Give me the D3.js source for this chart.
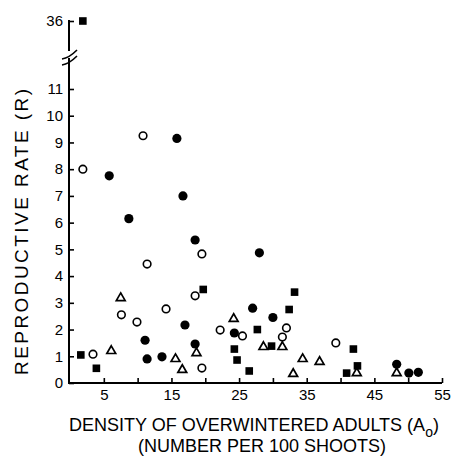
<!DOCTYPE html>
<html>
<head>
<meta charset="utf-8">
<script src="https://cdn.jsdelivr.net/npm/d3@7"></script>
<style>
  body { margin: 0; background: #fff; }
  svg { display: block; }
  text { font-family: "Liberation Sans", Arial, sans-serif; fill: #000; }
</style>
</head>
<body>
<div class="chart"></div>
<script>
// [density A0, reproductive rate R]
const filledCircles = [[5.8, 7.75], [8.7, 6.15], [15.8, 9.15], [16.7, 7.0], [18.5, 5.35], [28.0, 4.87],
  [27.0, 2.8], [30.0, 2.45], [17.0, 2.17], [24.3, 1.87], [18.5, 1.46], [11.1, 1.6], [11.4, 0.9],
  [13.6, 0.98], [48.3, 0.7], [50.1, 0.37], [51.5, 0.4]];
const openCircles = [[1.9, 8.0], [10.8, 9.25], [11.4, 4.45], [7.6, 2.55], [9.9, 2.28], [14.2, 2.77],
  [3.4, 1.08], [19.5, 4.83], [18.5, 3.26], [22.2, 1.98], [25.5, 1.76], [32.0, 2.06], [31.4, 1.72],
  [19.5, 0.56], [39.3, 1.5]];
const filledSquares = [[1.9, 36], [1.6, 1.05], [3.9, 0.55], [19.7, 3.5], [33.2, 3.4], [32.4, 2.75],
  [27.7, 2.0], [29.8, 1.38], [24.3, 1.27], [24.7, 0.86], [26.5, 0.45], [41.9, 1.27], [42.5, 0.64],
  [40.9, 0.37]];
const openTriangles = [[7.5, 3.18], [6.1, 1.2], [15.6, 0.9], [16.6, 0.49], [24.2, 2.4], [18.7, 1.12],
  [28.6, 1.35], [31.4, 1.35], [34.4, 0.9], [33.0, 0.34], [36.9, 0.79], [42.4, 0.37], [48.3, 0.37]];

const xTicks = [5, 10, 15, 20, 25, 30, 35, 40, 45, 50, 55];
const xLabels = [5, 15, 25, 35, 45, 55];
const yTicks = [0, 1, 2, 3, 4, 5, 6, 7, 8, 9, 10, 11];
const yTopTicks = [36];

const width = 468, height = 461;

const svg = d3.select(".chart").append("svg")
  .attr("width", width)
  .attr("height", height);

const xScale = d3.scaleLinear().domain([0, 55]).range([70, 442]);
const yScale = d3.scaleLinear().domain([0, 11]).range([383, 89]);
// the part above the axis break
const yTop = d3.scaleLinear().domain([36, 35]).range([21, 47.7]);
const yPos = v => v > 20 ? yTop(v) : yScale(v);

const axisX = 69;

// x axis
const xAxis = d3.axisBottom(xScale)
  .tickValues(xTicks)
  .tickSizeInner(-5)
  .tickSizeOuter(0)
  .tickPadding(6)
  .tickFormat(d => xLabels.includes(d) ? d : "");

const gx = svg.append("g")
  .attr("transform", "translate(0," + yScale(0) + ")")
  .call(xAxis);
gx.select(".domain").remove();
gx.selectAll("line").attr("stroke", "#000").attr("stroke-width", 1.6);
gx.selectAll("text").style("font-size", "15px");
svg.append("line")
  .attr("x1", axisX).attr("x2", xScale(55))
  .attr("y1", yScale(0)).attr("y2", yScale(0))
  .attr("stroke", "#000").attr("stroke-width", 2);

// y axis, lower part
const yAxis = d3.axisLeft(yScale)
  .tickValues(yTicks)
  .tickSizeInner(-5)
  .tickSizeOuter(0)
  .tickPadding(6)
  .tickFormat(d3.format("d"));

const gy = svg.append("g")
  .attr("transform", "translate(" + axisX + ",0)")
  .call(yAxis);
gy.select(".domain").remove();
gy.selectAll("line").attr("stroke", "#000").attr("stroke-width", 1.6);
gy.selectAll("text").style("font-size", "15px");

const gyTop = svg.append("g")
  .attr("transform", "translate(" + axisX + ",0)")
  .call(d3.axisLeft(yTop).tickValues(yTopTicks).tickSizeInner(-5).tickSizeOuter(0)
    .tickPadding(6).tickFormat(d3.format("d")));
gyTop.select(".domain").remove();
gyTop.selectAll("line").attr("stroke", "#000").attr("stroke-width", 1.6);
gyTop.selectAll("text").style("font-size", "15px");

// axis line with a break
svg.append("line")
  .attr("x1", axisX).attr("x2", axisX)
  .attr("y1", yScale(0) + 1).attr("y2", 58)
  .attr("stroke", "#000").attr("stroke-width", 2);
svg.append("line")
  .attr("x1", axisX).attr("x2", axisX)
  .attr("y1", 51).attr("y2", yTop(36) - 1)
  .attr("stroke", "#000").attr("stroke-width", 2);
[[62, 59, 77, 50], [62, 65, 77, 56]].forEach(s => {
  svg.append("path")
    .attr("d", "M" + s[0] + "," + s[1] + " Q" + (s[0] + 7) + "," + (s[1] - 1) + " " + s[2] + "," + s[3])
    .attr("fill", "none")
    .attr("stroke", "#000").attr("stroke-width", 1.6);
});

// points
svg.selectAll(".fc")
  .data(filledCircles)
  .enter().append("circle")
  .attr("class", "fc")
  .attr("cx", d => xScale(d[0]))
  .attr("cy", d => yPos(d[1]))
  .attr("r", 4.6)
  .attr("fill", "#000");

svg.selectAll(".oc")
  .data(openCircles)
  .enter().append("circle")
  .attr("class", "oc")
  .attr("cx", d => xScale(d[0]))
  .attr("cy", d => yPos(d[1]))
  .attr("r", 3.8)
  .attr("fill", "#fff")
  .attr("stroke", "#000")
  .attr("stroke-width", 1.6);

svg.selectAll(".fs")
  .data(filledSquares)
  .enter().append("rect")
  .attr("class", "fs")
  .attr("x", d => xScale(d[0]) - 3.8)
  .attr("y", d => yPos(d[1]) - 3.8)
  .attr("width", 7.6)
  .attr("height", 7.6)
  .attr("fill", "#000");

const tri = d3.symbol().type(d3.symbolTriangle).size(34);
svg.selectAll(".ot")
  .data(openTriangles)
  .enter().append("path")
  .attr("class", "ot")
  .attr("transform", d => "translate(" + xScale(d[0]) + "," + yPos(d[1]) + ")")
  .attr("d", tri)
  .attr("fill", "#fff")
  .attr("stroke", "#000")
  .attr("stroke-width", 1.7);

// titles
const xt = svg.append("text")
  .attr("x", 254)
  .attr("y", 431)
  .attr("text-anchor", "middle")
  .style("font-size", "18px");
xt.append("tspan").text("DENSITY OF OVERWINTERED ADULTS (A");
xt.append("tspan").attr("dy", 6).style("font-size", "14px").text("o");
xt.append("tspan").attr("dy", -6).text(")");

svg.append("text")
  .attr("x", 262)
  .attr("y", 452)
  .attr("text-anchor", "middle")
  .style("font-size", "18px")
  .text("(NUMBER PER 100 SHOOTS)");

svg.append("text")
  .attr("transform", "translate(28,232) rotate(-90)")
  .attr("text-anchor", "middle")
  .attr("textLength", 286)
  .attr("lengthAdjust", "spacing")
  .style("font-size", "19px")
  .text("REPRODUCTIVE RATE (R)");
</script>
</body>
</html>
